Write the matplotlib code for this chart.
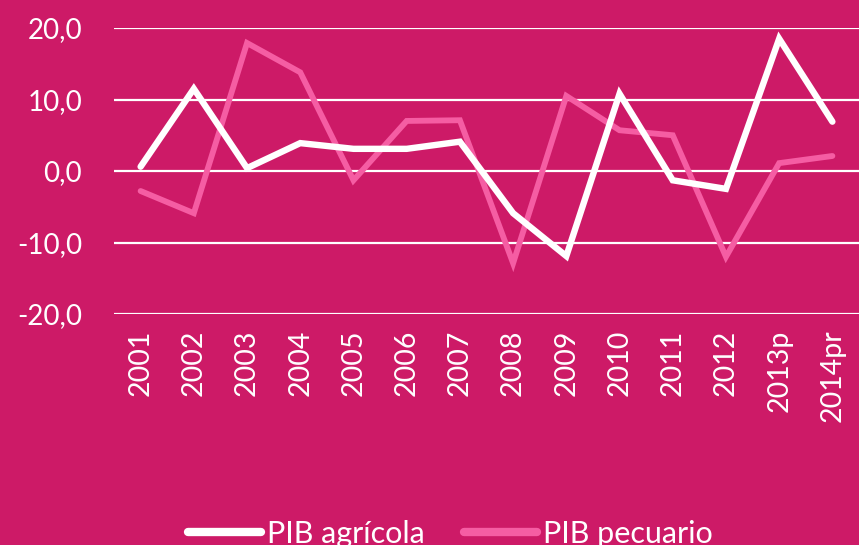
import matplotlib

matplotlib.use("Agg")
import matplotlib.pyplot as plt

# --- data ------------------------------------------------------------------
years = ["2001", "2002", "2003", "2004", "2005", "2006", "2007",
         "2008", "2009", "2010", "2011", "2012", "2013p", "2014pr"]
pib_agricola = [0.6, 11.5, 0.4, 3.9, 3.1, 3.1, 4.1,
                -5.9, -11.9, 10.8, -1.3, -2.5, 18.5, 6.9]
pib_pecuario = [-2.8, -5.9, 17.9, 13.8, -1.3, 7.0, 7.1,
                -12.9, 10.5, 5.7, 5.0, -12.0, 1.1, 2.1]
y_ticks = [-20, -10, 0, 10, 20]

BG = "#CD1A67"
PINK = "#F55DA3"
plt.rcParams["font.family"] = ["Lato", "DejaVu Sans"]

fig = plt.figure(figsize=(8.59, 5.45), dpi=100, facecolor=BG)
ax = fig.add_axes([114 / 859, 1 - 314 / 545, 1 - 114 / 859, (314 - 28) / 545])
ax.set_facecolor(BG)

x = list(range(len(years)))
ax.plot(x, pib_agricola, color="white", lw=4.6, solid_capstyle="round",
        solid_joinstyle="miter", label="PIB agrícola", clip_on=False, zorder=3)
ax.plot(x, pib_pecuario, color=PINK, lw=4.2, solid_capstyle="round",
        solid_joinstyle="miter", label="PIB pecuario", clip_on=False, zorder=2)

ax.set_xlim(-0.5, len(years) - 0.5)
ax.set_ylim(-20, 20)
ax.set_yticks(y_ticks)
ax.set_yticklabels([f"{v:.1f}".replace(".", ",") for v in y_ticks])
ax.grid(axis="y", color="white", lw=1.6, zorder=1)
ax.set_xticks(x)
ax.set_xticklabels(years, rotation=90)
ax.tick_params(colors="white", labelsize=20.5, length=0)
ax.tick_params(axis="y", labelsize=20, pad=23)
ax.tick_params(axis="x", pad=11)
for s in ax.spines.values():
    s.set_visible(False)

leg = fig.legend(loc="lower center", bbox_to_anchor=(0.524, -0.056), ncol=2,
                 frameon=False, fontsize=22, handlelength=2.4, handletextpad=0.18,
                 columnspacing=1.3, labelcolor="white")
for h in leg.get_lines():
    h.set_linewidth(6)
    h.set_solid_capstyle("round")

fig.savefig("out.png", dpi=100, facecolor=BG)
